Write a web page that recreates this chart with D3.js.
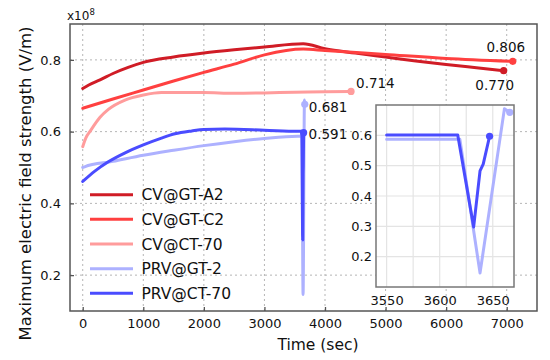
<!DOCTYPE html>
<html>
<head>
<meta charset="utf-8">
<script src="https://cdn.jsdelivr.net/npm/d3@7"></script>
<style>
  html, body { margin: 0; padding: 0; background: #fff; }
  svg { display: block; font-family: "DejaVu Sans", sans-serif; }
</style>
</head>
<body>
<svg id="chart" width="550" height="360"></svg>
<script>
// ---------------- DATA (values in units of 10^8 V/m) ----------------
const seriesNames = ["CV@GT-A2", "CV@GT-C2", "CV@CT-70", "PRV@GT-2", "PRV@CT-70"];
const seriesColors = ["#d01c26", "#ff4040", "#ff9c9c", "#adb1ff", "#4a4cff"];

const cvGTA2Time  = [0, 100, 286, 500, 750, 1000, 1500, 2000, 2500, 3000, 3640, 4000, 4500, 5000, 5500, 6000, 6500, 6950];
const cvGTA2Value = [0.720, 0.730, 0.744, 0.762, 0.779, 0.793, 0.808, 0.819, 0.828, 0.836, 0.845, 0.831, 0.819, 0.808, 0.797, 0.787, 0.778, 0.770];

const cvGTC2Time  = [0, 500, 1000, 1500, 2000, 2500, 3000, 3640, 4000, 5000, 6000, 7100];
const cvGTC2Value = [0.665, 0.691, 0.716, 0.741, 0.765, 0.788, 0.814, 0.830, 0.826, 0.815, 0.804, 0.796];

const cvCT70Time  = [0, 50, 130, 286, 423, 698, 1000, 1300, 2000, 2500, 3000, 3500, 4000, 4430];
const cvCT70Value = [0.558, 0.582, 0.603, 0.640, 0.662, 0.688, 0.702, 0.709, 0.709, 0.707, 0.708, 0.710, 0.711, 0.712];

const prvGT2Time  = [0, 30, 500, 1000, 1500, 2000, 2500, 3000, 3550, 3619, 3638, 3661, 3666];
const prvGT2Value = [0.500, 0.502, 0.517, 0.534, 0.548, 0.561, 0.572, 0.581, 0.587, 0.587, 0.146, 0.688, 0.676];

const prvCT70Time  = [0, 200, 423, 700, 1000, 1300, 1522, 1800, 2000, 2346, 3000, 3550, 3617, 3632, 3638, 3641, 3647];
const prvCT70Value = [0.461, 0.490, 0.516, 0.541, 0.563, 0.582, 0.594, 0.602, 0.606, 0.607, 0.604, 0.601, 0.601, 0.298, 0.483, 0.505, 0.597];

const endLabels = ["0.770", "0.806", "0.714", "0.681", "0.591"];

const xTicks = [0, 1000, 2000, 3000, 4000, 5000, 6000, 7000];
const yTicks = [0.2, 0.4, 0.6, 0.8];
const insetXTicks = [3550, 3600, 3650];
const insetXGrid = [3550, 3575, 3600, 3625, 3650];
const insetYTicks = [0.2, 0.3, 0.4, 0.5, 0.6];

const xTitle = "Time (sec)";
const yTitle = "Maximum electric field strength (V/m)";
const unitLabel = "x10";
const unitExp = "8";

// ---------------- BUILD ----------------
const FONT = '"DejaVu Sans", sans-serif';
const times = [cvGTA2Time, cvGTC2Time, cvCT70Time, prvGT2Time, prvCT70Time];
const vals = [cvGTA2Value, cvGTC2Value, cvCT70Value, prvGT2Value, prvCT70Value];
const series = seriesNames.map((name, i) => ({
  name, color: seriesColors[i], label: endLabels[i],
  points: times[i].map((t, j) => ({ t, v: vals[i][j] }))
}));

const svg = d3.select("#chart");
const frameColor = "#555";
const textColor = "#111";

const x = d3.scaleLinear().domain([-210, 7500]).range([70, 537]);
const y = d3.scaleLinear().domain([0.1, 0.9]).range([311, 24]);

// grid
const grid = svg.append("g");
grid.selectAll("line.vx").data(xTicks).join("line")
  .attr("x1", d => x(d)).attr("x2", d => x(d))
  .attr("y1", y.range()[0]).attr("y2", y.range()[1])
  .attr("stroke", "#b5b5b5").attr("stroke-width", 1).attr("stroke-dasharray", "2,3");
grid.selectAll("line.hy").data(yTicks).join("line")
  .attr("x1", x.range()[0]).attr("x2", x.range()[1])
  .attr("y1", d => y(d)).attr("y2", d => y(d))
  .attr("stroke", "#b5b5b5").attr("stroke-width", 1).attr("stroke-dasharray", "2,3");

// axes
const xAxis = d3.axisBottom(x).tickValues(xTicks).tickFormat(d3.format("d")).tickSizeInner(-4).tickSizeOuter(0).tickPadding(8);
const yAxis = d3.axisLeft(y).tickValues(yTicks).tickFormat(d3.format(".1f")).tickSizeInner(-4).tickSizeOuter(0).tickPadding(9);
const gx = svg.append("g").attr("transform", `translate(0,${y.range()[0]})`).call(xAxis);
const gy = svg.append("g").attr("transform", `translate(${x.range()[0]},0)`).call(yAxis);
[gx, gy].forEach(g => {
  g.select(".domain").remove();
  g.selectAll(".tick line").attr("stroke", frameColor).attr("stroke-width", 1.3);
  g.selectAll(".tick text").attr("fill", textColor).attr("font-size", 13).attr("font-family", FONT);
});

// lines
const line = d3.line().x(d => x(d.t)).y(d => y(d.v)).curve(d3.curveMonotoneX);
const gl = svg.append("g");
series.forEach(s => {
  gl.append("path").datum(s.points).attr("d", line)
    .attr("fill", "none").attr("stroke", s.color).attr("stroke-width", 3)
    .attr("stroke-linejoin", "round").attr("stroke-linecap", "round");
});
series.forEach(s => {
  const last = s.points[s.points.length - 1];
  gl.append("circle").attr("cx", x(last.t)).attr("cy", y(last.v)).attr("r", 3.6).attr("fill", s.color);
});

// end labels (offsets relative to the final point)
const labelOffsets = [
  { dx: -9, dy: 19, anchor: "middle" },
  { dx: -7, dy: -9, anchor: "middle" },
  { dx: 5, dy: -3, anchor: "start" },
  { dx: 4, dy: 8, anchor: "start" },
  { dx: 5, dy: 6, anchor: "start" }
];
series.forEach((s, i) => {
  const last = s.points[s.points.length - 1];
  svg.append("text").attr("x", x(last.t) + labelOffsets[i].dx).attr("y", y(last.v) + labelOffsets[i].dy)
    .attr("text-anchor", labelOffsets[i].anchor).attr("font-size", 13.5).attr("fill", textColor).text(s.label);
});

// frame
svg.append("rect").attr("x", x.range()[0]).attr("y", y.range()[1])
  .attr("width", x.range()[1] - x.range()[0]).attr("height", y.range()[0] - y.range()[1])
  .attr("fill", "none").attr("stroke", frameColor).attr("stroke-width", 1.5);

// unit label
const ut = svg.append("text").attr("x", 67).attr("y", 20).attr("font-size", 12).attr("fill", textColor);
ut.append("tspan").text(unitLabel);
ut.append("tspan").attr("font-size", 8.5).attr("dy", -5).text(unitExp);

// titles
svg.append("text").attr("x", 318).attr("y", 350).attr("text-anchor", "middle")
  .attr("font-size", 15.5).attr("fill", textColor).text(xTitle);
svg.append("text").attr("transform", `translate(31,${(y.range()[0] + y.range()[1]) / 2 + 16}) rotate(-90)`)
  .attr("text-anchor", "middle").attr("font-size", 16.5).attr("fill", textColor).text(yTitle);

// legend
const lg = svg.append("g");
series.forEach((s, i) => {
  const ly = 194.7 + i * 24.65;
  lg.append("line").attr("x1", 90).attr("x2", 133).attr("y1", ly).attr("y2", ly)
    .attr("stroke", s.color).attr("stroke-width", 3);
  lg.append("text").attr("x", 141.5).attr("y", ly).attr("dy", "0.36em")
    .attr("font-size", 15.5).attr("fill", textColor).text(s.name);
});

// ---------------- INSET ----------------
const ix = d3.scaleLinear().domain([3540, 3670]).range([376, 514]);
const iy = d3.scaleLinear().domain([0.1, 0.7]).range([287, 105]);
const ig = svg.append("g");
ig.append("rect").attr("x", ix.range()[0]).attr("y", iy.range()[1])
  .attr("width", ix.range()[1] - ix.range()[0]).attr("height", iy.range()[0] - iy.range()[1])
  .attr("fill", "#fff");
ig.selectAll("line.ivx").data(insetXGrid).join("line")
  .attr("x1", d => ix(d)).attr("x2", d => ix(d)).attr("y1", iy.range()[0]).attr("y2", iy.range()[1])
  .attr("stroke", "#e4e4e4").attr("stroke-width", 1.2);
ig.selectAll("line.ihy").data(insetYTicks).join("line")
  .attr("x1", ix.range()[0]).attr("x2", ix.range()[1]).attr("y1", d => iy(d)).attr("y2", d => iy(d))
  .attr("stroke", "#e4e4e4").attr("stroke-width", 1.2);

svg.append("clipPath").attr("id", "insetClip").append("rect")
  .attr("x", ix.range()[0]).attr("y", iy.range()[1])
  .attr("width", ix.range()[1] - ix.range()[0]).attr("height", iy.range()[0] - iy.range()[1]);

const iline = d3.line().x(d => ix(d.t)).y(d => iy(d.v));
const igl = ig.append("g").attr("clip-path", "url(#insetClip)");
series.slice(3).forEach(s => {
  const pts = s.points.filter(p => p.t >= 3550);
  igl.append("path").datum(pts).attr("d", iline)
    .attr("fill", "none").attr("stroke", s.color).attr("stroke-width", 3)
    .attr("stroke-linejoin", "round").attr("stroke-linecap", "round");
  const last = pts[pts.length - 1];
  igl.append("circle").attr("cx", ix(last.t)).attr("cy", iy(last.v)).attr("r", 3.6).attr("fill", s.color);
});

ig.append("rect").attr("x", ix.range()[0]).attr("y", iy.range()[1])
  .attr("width", ix.range()[1] - ix.range()[0]).attr("height", iy.range()[0] - iy.range()[1])
  .attr("fill", "none").attr("stroke", "#777").attr("stroke-width", 1.5);

const ixAxis = d3.axisBottom(ix).tickValues(insetXTicks).tickFormat(d3.format("d")).tickSize(0).tickPadding(9);
const iyAxis = d3.axisLeft(iy).tickValues(insetYTicks).tickFormat(d3.format(".1f")).tickSize(0).tickPadding(4);
const gix = ig.append("g").attr("transform", `translate(0,${iy.range()[0]})`).call(ixAxis);
const giy = ig.append("g").attr("transform", `translate(${ix.range()[0]},0)`).call(iyAxis);
[gix, giy].forEach(g => {
  g.select(".domain").remove();
  g.selectAll(".tick text").attr("fill", textColor).attr("font-size", 13).attr("font-family", FONT);
});
</script>
</body>
</html>
